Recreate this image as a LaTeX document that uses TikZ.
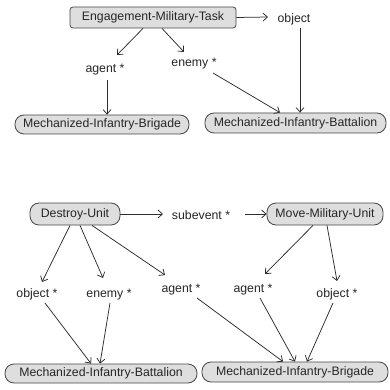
\documentclass[tikz,border=0pt]{standalone}
\usepackage{fontspec}
\setmainfont{Liberation Sans}
\usetikzlibrary{arrows.meta}
\definecolor{boxfill}{RGB}{222,222,222}
\definecolor{boxline}{RGB}{70,70,70}
\definecolor{edgecol}{RGB}{45,45,45}
\begin{document}
\begin{tikzpicture}[x=1pt,y=-1pt,
  every node/.style={font=\fontsize{12.3}{14}\selectfont, text=black!85, inner sep=0pt},
  rbox/.style={draw=boxline, fill=boxfill, line width=0.8pt, rounded corners=9pt},
  sbox/.style={draw=boxline, fill=boxfill, line width=0.8pt, rounded corners=3pt},
  lbl/.style={anchor=base},
  arr/.style={draw=edgecol, line width=0.75pt, -{Straight Barb[length=4.5pt,width=8pt]}}]
\useasboundingbox (0,0) rectangle (390,390);
\fill[white] (0,0) rectangle (390,390);
% top
\node[sbox, minimum width=166pt, minimum height=21pt] (emt) at (153,17.5) {Engagement-Military-Task};
\node[lbl] (obj1) at (294,22.5) {object};
\node[lbl] (ag1) at (105,73) {agent *};
\node[lbl] (en1) at (194,67) {enemy *};
\node[rbox, minimum width=174pt, minimum height=19pt] (brig1) at (102,124.5) {Mechanized-Infantry-Brigade};
\node[rbox, minimum width=181pt, minimum height=20pt] (batt1) at (295.5,123) {Mechanized-Infantry-Battalion};
% bottom
\node[rbox, minimum width=90pt, minimum height=22pt] (du) at (75,214) {Destroy-Unit};
\node[lbl] (sub) at (201,219) {subevent *};
\node[rbox, minimum width=116pt, minimum height=22pt] (mmu) at (325,214) {Move-Military-Unit};
\node[lbl] (obj2) at (37,297) {object *};
\node[lbl] (en2) at (109,297) {enemy *};
\node[lbl] (ag2) at (181,292) {agent *};
\node[lbl] (ag3) at (253,292) {agent *};
\node[lbl] (obj3) at (337,297) {object *};
\node[rbox, minimum width=192pt, minimum height=19pt] (batt2) at (101,373.5) {Mechanized-Infantry-Battalion};
\node[rbox, minimum width=186pt, minimum height=20pt] (brig2) at (295,372) {Mechanized-Infantry-Brigade};
% top edges
\draw[arr] (emt.east) -- ([shift={(-26,-5.5)}]obj1.base);
\draw[arr] ([shift={(-10,0)}]emt.south) -- ([shift={(12,-18)}]ag1.base);
\draw[arr] ([shift={(9,0)}]emt.south) -- ([shift={(-10,-15)}]en1.base);
\draw[arr] ([shift={(2,7)}]ag1.base) -- ([shift={(5,0)}]brig1.north);
\draw[arr] ([shift={(19,6)}]en1.base) -- ([shift={(-15.5,0)}]batt1.north);
\draw[arr] ([shift={(6,5.5)}]obj1.base) -- ([shift={(4.5,0)}]batt1.north);
% bottom edges
\draw[arr] (du.east) -- ([shift={(-38,-5)}]sub.base);
\draw[arr] ([shift={(44,-5)}]sub.base) -- (mmu.west);
\draw[arr] ([shift={(-5,0)}]du.south) -- ([shift={(5,-15)}]obj2.base);
\draw[arr] ([shift={(5,0)}]du.south) -- ([shift={(-6,-19)}]en2.base);
\draw[arr] ([shift={(17,0)}]du.south) -- ([shift={(-16,-17)}]ag2.base);
\draw[arr] ([shift={(-12,0)}]mmu.south) -- ([shift={(12,-18)}]ag3.base);
\draw[arr] ([shift={(2,0)}]mmu.south) -- ([shift={(0,-16)}]obj3.base);
\draw[arr] ([shift={(8,6)}]obj2.base) -- ([shift={(-10,0)}]batt2.north);
\draw[arr] ([shift={(1,6)}]en2.base) -- ([shift={(-1,0)}]batt2.north);
\draw[arr] ([shift={(16,6)}]ag2.base) -- ([shift={(-12,0)}]brig2.north);
\draw[arr] ([shift={(7,6)}]ag3.base) -- ([shift={(0,0)}]brig2.north);
\draw[arr] ([shift={(-4,6)}]obj3.base) -- ([shift={(12,0)}]brig2.north);
\end{tikzpicture}
\end{document}
